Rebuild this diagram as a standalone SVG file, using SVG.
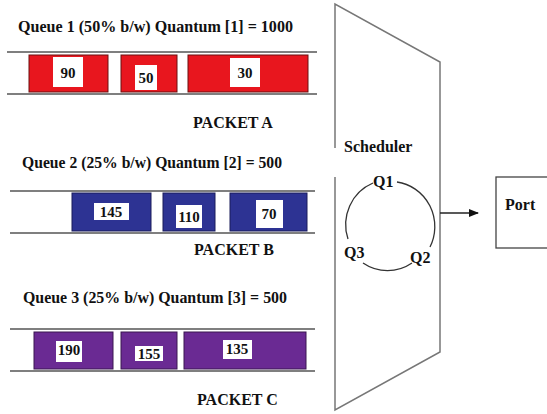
<svg xmlns="http://www.w3.org/2000/svg" width="547" height="414" viewBox="0 0 547 414">
<style>
text{font-family:"Liberation Serif","Times New Roman",serif;font-weight:bold;fill:#111}
.t{font-size:16px}
.n{font-size:15px;text-anchor:middle}
.rail{stroke:#555;stroke-width:1.5}
.red{fill:#e8161e;stroke:#6a1010;stroke-width:1}
.blue{fill:#2d3393;stroke:#1a1d5a;stroke-width:1}
.pur{fill:#6a2a93;stroke:#3a1650;stroke-width:1}
.lab{fill:#fff}
.edge{fill:none;stroke:#777;stroke-width:1.5}
.arc{fill:none;stroke:#333;stroke-width:1.3}
</style>
<defs>
<marker id="ah" markerWidth="10" markerHeight="8" refX="9" refY="4" orient="auto" markerUnits="userSpaceOnUse">
<path d="M0,0 L10,4 L0,8 Z" fill="#111"/>
</marker>
</defs>
<rect width="547" height="414" fill="#fff"/>

<g id="queue1">
<text class="t" x="18" y="32" textLength="275" lengthAdjust="spacingAndGlyphs">Queue 1 (50% b/w)  Quantum [1] = 1000</text>
<line class="rail" x1="7" y1="52" x2="317" y2="52"/>
<line class="rail" x1="7" y1="94" x2="317" y2="94"/>
<rect class="red" x="29" y="55" width="79" height="37"/>
<rect class="red" x="121" y="55" width="56" height="37"/>
<rect class="red" x="188" y="55" width="120" height="37"/>
<rect class="lab" x="53" y="57" width="30" height="30"/>
<rect class="lab" x="135" y="65" width="22" height="25"/>
<rect class="lab" x="230" y="58" width="30" height="29"/>
<text class="n" x="68" y="78">90</text>
<text class="n" x="146" y="83">50</text>
<text class="n" x="245" y="78">30</text>
<text class="t" x="193" y="128" font-size="15">PACKET A</text>
</g>

<g id="queue2">
<text class="t" x="22" y="168" textLength="260" lengthAdjust="spacingAndGlyphs">Queue 2 (25% b/w) Quantum [2] = 500</text>
<line class="rail" x1="10" y1="191" x2="315" y2="191"/>
<line class="rail" x1="10" y1="233" x2="315" y2="233"/>
<rect class="blue" x="72" y="193" width="79" height="38"/>
<rect class="blue" x="163" y="193" width="52" height="38"/>
<rect class="blue" x="230" y="193" width="77" height="38"/>
<rect class="lab" x="94" y="203" width="35" height="17"/>
<rect class="lab" x="176" y="205" width="26" height="23"/>
<rect class="lab" x="256" y="200" width="27" height="28"/>
<text class="n" x="111" y="217">145</text>
<text class="n" x="189" y="222">110</text>
<text class="n" x="269" y="219">70</text>
<text class="t" x="194" y="255" font-size="15">PACKET B</text>
</g>

<g id="queue3">
<text class="t" x="23" y="303" textLength="264" lengthAdjust="spacingAndGlyphs">Queue 3 (25% b/w)  Quantum [3] = 500</text>
<line class="rail" x1="10" y1="329" x2="315" y2="329"/>
<line class="rail" x1="10" y1="371" x2="315" y2="371"/>
<rect class="pur" x="34" y="332" width="79" height="37"/>
<rect class="pur" x="121" y="332" width="56" height="37"/>
<rect class="pur" x="184" y="332" width="122" height="37"/>
<rect class="lab" x="56" y="341" width="26" height="21"/>
<rect class="lab" x="135" y="346" width="28" height="15"/>
<rect class="lab" x="223" y="340" width="29" height="19"/>
<text class="n" x="69" y="355">190</text>
<text class="n" x="149" y="359">155</text>
<text class="n" x="237" y="354">135</text>
<text class="t" x="197" y="405" font-size="15">PACKET C</text>
</g>

<g id="scheduler">
<path class="edge" d="M335,148 L335,4 L440,62 L440,352 L335,410 L335,177"/>
<text class="t" x="344" y="152">Scheduler</text>
<path class="arc" d="M397,182 A44,45 0 0 1 430,247"/>
<path class="arc" d="M412,263 A44,45 0 0 1 363,263"/>
<path class="arc" d="M348,239 A44,45 0 0 1 373,183"/>
<text class="t" x="373" y="187">Q1</text>
<text class="t" x="344" y="258">Q3</text>
<text class="t" x="410" y="263">Q2</text>
</g>

<g id="port">
<rect x="496" y="177" width="55" height="71" fill="#fff" stroke="#444" stroke-width="1.3"/>
<text class="t" x="505" y="210">Port</text>
</g>

<g id="connectors">
<line x1="440" y1="213" x2="478" y2="213" stroke="#222" stroke-width="1.5" marker-end="url(#ah)"/>
</g>
</svg>
